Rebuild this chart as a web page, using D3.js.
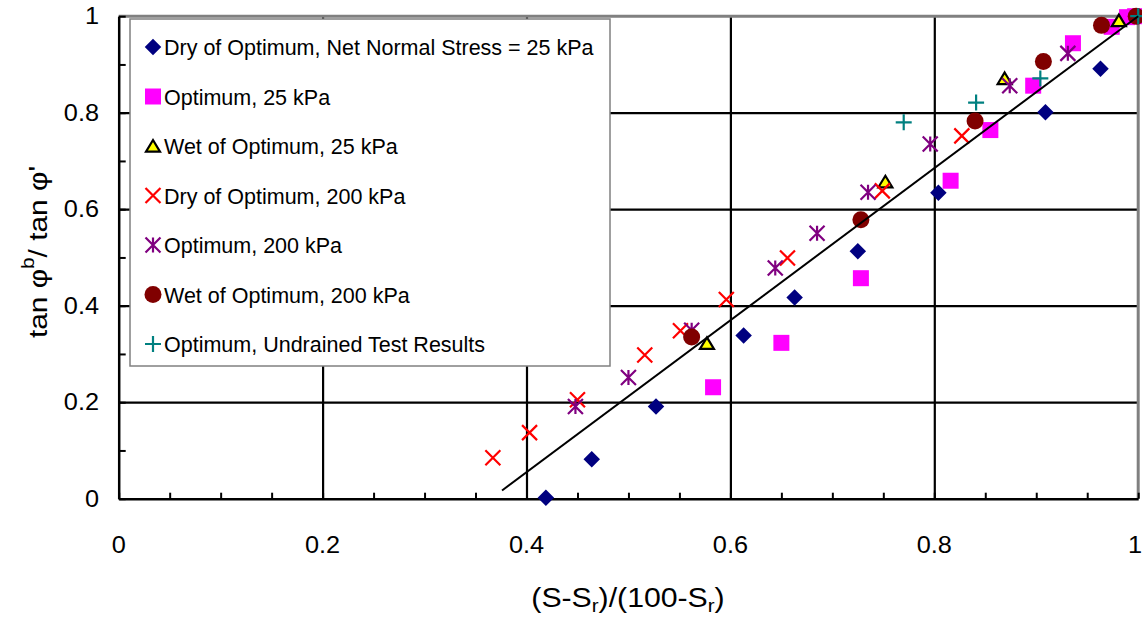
<!DOCTYPE html>
<html>
<head>
<meta charset="utf-8">
<script src="https://cdn.jsdelivr.net/npm/d3@7"></script>
<style>
  html, body { margin: 0; padding: 0; background: #fff; }
  svg { display: block; font-family: "Liberation Sans", Arial, sans-serif; }
</style>
</head>
<body>
<script>
// ---------------- DATA ----------------
const tickValues = [0, 0.2, 0.4, 0.6, 0.8, 1];
const xTickLabels = ["0", "0.2", "0.4", "0.6", "0.8", "1"];
const yTickLabels = ["0", "0.2", "0.4", "0.6", "0.8", "1"];

const seriesNames = [
  "Dry of Optimum, Net Normal Stress = 25 kPa",
  "Optimum, 25 kPa",
  "Wet of Optimum, 25 kPa",
  "Dry of Optimum, 200 kPa",
  "Optimum, 200 kPa",
  "Wet of Optimum, 200 kPa",
  "Optimum, Undrained Test Results"
];

const dryOpt25X = [0.419, 0.464, 0.527, 0.613, 0.663, 0.725, 0.804, 0.909, 0.963];
const dryOpt25Y = [0.002, 0.082, 0.191, 0.338, 0.417, 0.513, 0.634, 0.801, 0.891];

const opt25X = [0.583, 0.650, 0.728, 0.816, 0.855, 0.897, 0.936, 0.974, 0.989, 0.997];
const opt25Y = [0.231, 0.323, 0.457, 0.659, 0.764, 0.856, 0.944, 0.978, 0.998, 1.0];

const wet25X = [0.577, 0.752, 0.869, 0.981];
const wet25Y = [0.322, 0.657, 0.871, 0.991];

const dry200X = [0.367, 0.403, 0.450, 0.516, 0.551, 0.596, 0.656, 0.749, 0.827];
const dry200Y = [0.085, 0.137, 0.205, 0.298, 0.348, 0.413, 0.499, 0.638, 0.752];

const opt200X = [0.448, 0.500, 0.562, 0.644, 0.685, 0.735, 0.796, 0.874, 0.931];
const opt200Y = [0.191, 0.251, 0.349, 0.478, 0.550, 0.635, 0.735, 0.856, 0.923];

const wet200X = [0.562, 0.728, 0.840, 0.907, 0.964, 0.998];
const wet200Y = [0.335, 0.578, 0.783, 0.906, 0.981, 1.0];

const undrainedX = [0.770, 0.841, 0.904, 1.0];
const undrainedY = [0.780, 0.821, 0.871, 1.0];

const trendX = [0.376, 1.0];
const trendY = [0.017, 1.0];

// ---------------- LAYOUT / STYLE ----------------
const W = 1142, H = 617;
const x = d3.scaleLinear().domain([0, 1]).range([118.7, 1138.2]);
const y = d3.scaleLinear().domain([0, 1]).range([498.7, 16.2]);

const svg = d3.select("body").append("svg").attr("width", W).attr("height", H);

// custom marker shapes (d = full extent in px, passed as size = d*d)
const symDiamond = { draw(c, s) { const r = Math.sqrt(s) / 2; c.moveTo(0, -r); c.lineTo(r, 0); c.lineTo(0, r); c.lineTo(-r, 0); c.closePath(); } };
const symSquare = { draw(c, s) { const r = Math.sqrt(s) / 2; c.rect(-r, -r, 2 * r, 2 * r); } };
const symTri = { draw(c, s) { const r = Math.sqrt(s) / 2; c.moveTo(0, -r * 0.85); c.lineTo(r, r * 0.8); c.lineTo(-r, r * 0.8); c.closePath(); } };
const symX = { draw(c, s) { const r = Math.sqrt(s) / 2; c.moveTo(-r, -r); c.lineTo(r, r); c.moveTo(r, -r); c.lineTo(-r, r); } };
const symAst = { draw(c, s) { const r = Math.sqrt(s) / 2; c.moveTo(-r, -r); c.lineTo(r, r); c.moveTo(r, -r); c.lineTo(-r, r); c.moveTo(0, -r); c.lineTo(0, r); } };
const symCircle = { draw(c, s) { const r = Math.sqrt(s) / 2; c.moveTo(r, 0); c.arc(0, 0, r, 0, 2 * Math.PI); } };
const symPlus = { draw(c, s) { const r = Math.sqrt(s) / 2; c.moveTo(-r, 0); c.lineTo(r, 0); c.moveTo(0, -r); c.lineTo(0, r); } };

const series = [
  { xs: dryOpt25X, ys: dryOpt25Y, type: symDiamond, d: 16.5, fill: "#000080", stroke: "none", sw: 0 },
  { xs: opt25X, ys: opt25Y, type: symSquare, d: 16, fill: "#FF00FF", stroke: "none", sw: 0 },
  { xs: wet25X, ys: wet25Y, type: symTri, d: 14, fill: "#FFFF00", stroke: "#000", sw: 2.2 },
  { xs: dry200X, ys: dry200Y, type: symX, d: 15, fill: "none", stroke: "#FF0000", sw: 2.2 },
  { xs: opt200X, ys: opt200Y, type: symAst, d: 15, fill: "none", stroke: "#800080", sw: 2.2 },
  { xs: wet200X, ys: wet200Y, type: symCircle, d: 17, fill: "#800000", stroke: "none", sw: 0 },
  { xs: undrainedX, ys: undrainedY, type: symPlus, d: 16, fill: "none", stroke: "#008080", sw: 2.2 }
];

const plotH = y(0) - y(1), plotW = x(1) - x(0);
const gridVals = [0.2, 0.4, 0.6, 0.8];

// vertical gridlines
svg.append("g").attr("transform", `translate(0,${y(0)})`)
  .call(d3.axisBottom(x).tickValues(gridVals).tickSize(-plotH).tickFormat(""))
  .call(g => g.select(".domain").remove())
  .selectAll("line").attr("stroke", "#000").attr("stroke-width", 2.2);

// horizontal gridlines
svg.append("g").attr("transform", `translate(${x(0)},0)`)
  .call(d3.axisLeft(y).tickValues(gridVals).tickSize(-plotW).tickFormat(""))
  .call(g => g.select(".domain").remove())
  .selectAll("line").attr("stroke", "#000").attr("stroke-width", 2.2);

// plot border top/right (gray)
svg.append("path")
  .attr("d", `M${x(0)},${y(1)}H${x(1)}V${y(0)}`)
  .attr("fill", "none").attr("stroke", "#808080").attr("stroke-width", 3);

// x axis with minor inner ticks
const xMinor = d3.range(0, 21).map(i => i * 0.05);
svg.append("g").attr("transform", `translate(0,${y(0)})`)
  .call(d3.axisBottom(x).tickValues(xMinor).tickSize(-6).tickSizeOuter(0).tickFormat(""))
  .call(g => g.select(".domain").attr("stroke", "#000").attr("stroke-width", 2.5))
  .selectAll(".tick line").attr("stroke", "#000").attr("stroke-width", 2);

// y axis with minor inner ticks
const yMinor = d3.range(0, 11).map(i => i * 0.1);
svg.append("g").attr("transform", `translate(${x(0)},0)`)
  .call(d3.axisLeft(y).tickValues(yMinor).tickSize(-7).tickSizeOuter(0).tickFormat(""))
  .call(g => g.select(".domain").attr("stroke", "#000").attr("stroke-width", 2.5))
  .selectAll(".tick line").attr("stroke", "#000").attr("stroke-width", 2);

// tick labels
const tickFont = 23, stretch = 1.1;
tickValues.forEach((v, i) => {
  const last = i === tickValues.length - 1;
  svg.append("g").attr("transform", `translate(${last ? W : x(v)},553) scale(${stretch},1)`)
    .append("text").attr("text-anchor", last ? "end" : "middle").attr("font-size", tickFont).attr("fill", "#000")
    .text(xTickLabels[i]);
  svg.append("g").attr("transform", `translate(99,${y(v) + 8}) scale(${stretch},1)`)
    .append("text").attr("text-anchor", "end").attr("font-size", tickFont).attr("fill", "#000")
    .text(yTickLabels[i]);
});

// x title
const xt = svg.append("g").attr("transform", `translate(628,607) scale(1.08,1)`)
  .append("text").attr("text-anchor", "middle").attr("font-size", 28).attr("fill", "#000");
xt.append("tspan").text("(S-S");
xt.append("tspan").attr("font-size", 19).attr("dy", 5).text("r");
xt.append("tspan").attr("dy", -5).text(")/(100-S");
xt.append("tspan").attr("font-size", 19).attr("dy", 5).text("r");
xt.append("tspan").attr("dy", -5).text(")");

// y title
const yt = svg.append("g").attr("transform", `translate(47,252) rotate(-90) scale(1.15,1)`)
  .append("text").attr("text-anchor", "middle").attr("font-size", 26).attr("fill", "#000");
yt.append("tspan").text("tan φ");
yt.append("tspan").attr("font-size", 18).attr("dy", -13).text("b");
yt.append("tspan").attr("dy", 13).text("/ tan φ'");

// series markers
series.forEach(s => {
  const sym = d3.symbol().type(s.type).size(s.d * s.d);
  svg.append("g").selectAll("path")
    .data(d3.range(s.xs.length))
    .join("path")
    .attr("transform", i => `translate(${x(s.xs[i])},${y(s.ys[i])})`)
    .attr("d", sym)
    .attr("fill", s.fill)
    .attr("stroke", s.stroke)
    .attr("stroke-width", s.sw)
    .attr("stroke-linejoin", "miter");
});

// trend line
svg.append("path")
  .datum(d3.range(trendX.length))
  .attr("d", d3.line().x(i => x(trendX[i])).y(i => y(trendY[i])))
  .attr("fill", "none").attr("stroke", "#000").attr("stroke-width", 2);

// legend
const lg = svg.append("g");
lg.append("rect").attr("x", 130).attr("y", 19).attr("width", 480).attr("height", 347)
  .attr("fill", "#fff").attr("stroke", "#808080").attr("stroke-width", 1.5);
series.forEach((s, i) => {
  const cy = 47 + i * 49.5;
  const sym = d3.symbol().type(s.type).size(s.d * s.d);
  lg.append("path").attr("transform", `translate(153,${cy})`).attr("d", sym)
    .attr("fill", s.fill).attr("stroke", s.stroke).attr("stroke-width", s.sw);
  lg.append("text").attr("x", 164).attr("y", cy + 8).attr("font-size", 21.5).attr("fill", "#000")
    .text(seriesNames[i]);
});
</script>
</body>
</html>
